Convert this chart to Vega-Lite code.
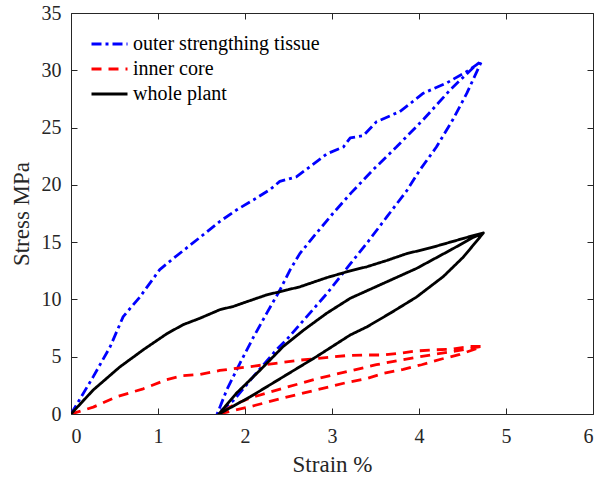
{
  "$schema": "https://vega.github.io/schema/vega-lite/v6.json",
  "width": 522,
  "height": 401,
  "autosize": {"type": "none"},
  "padding": {"left": 71, "top": 13, "right": 7, "bottom": 68},
  "background": "white",
  "config": {
    "view": {"stroke": "#262626", "strokeWidth": 1},
    "font": "Liberation Serif",
    "axis": {"grid": false, "domain": false, "ticks": true, "offset": -6, "tickColor": "#262626", "tickSize": 6, "tickWidth": 1, "zindex": 2, "labelFont": "Liberation Serif", "labelFontSize": 20, "labelColor": "#262626", "titleFont": "Liberation Serif", "titleFontSize": 23, "titleFontWeight": "normal", "titleColor": "#262626"}
  },
  "data": {"values": [
    {"s":"outer strengthing tissue","i":0,"x":0,"y":0},
    {"s":"outer strengthing tissue","i":1,"x":0.256,"y":3.26},
    {"s":"outer strengthing tissue","i":2,"x":0.45,"y":5.87},
    {"s":"outer strengthing tissue","i":3,"x":0.6,"y":8.5},
    {"s":"outer strengthing tissue","i":4,"x":0.79,"y":10.2},
    {"s":"outer strengthing tissue","i":5,"x":1.02,"y":12.6},
    {"s":"outer strengthing tissue","i":6,"x":1.18,"y":13.6},
    {"s":"outer strengthing tissue","i":7,"x":1.48,"y":15.4},
    {"s":"outer strengthing tissue","i":8,"x":1.71,"y":16.8},
    {"s":"outer strengthing tissue","i":9,"x":1.9,"y":17.8},
    {"s":"outer strengthing tissue","i":10,"x":2.1,"y":18.7},
    {"s":"outer strengthing tissue","i":11,"x":2.29,"y":19.6},
    {"s":"outer strengthing tissue","i":12,"x":2.4,"y":20.3},
    {"s":"outer strengthing tissue","i":13,"x":2.59,"y":20.7},
    {"s":"outer strengthing tissue","i":14,"x":2.75,"y":21.6},
    {"s":"outer strengthing tissue","i":15,"x":2.94,"y":22.7},
    {"s":"outer strengthing tissue","i":16,"x":3.13,"y":23.3},
    {"s":"outer strengthing tissue","i":17,"x":3.21,"y":24.1},
    {"s":"outer strengthing tissue","i":18,"x":3.36,"y":24.3},
    {"s":"outer strengthing tissue","i":19,"x":3.51,"y":25.5},
    {"s":"outer strengthing tissue","i":20,"x":3.78,"y":26.4},
    {"s":"outer strengthing tissue","i":21,"x":3.9,"y":27.1},
    {"s":"outer strengthing tissue","i":22,"x":4.05,"y":28.0},
    {"s":"outer strengthing tissue","i":23,"x":4.32,"y":28.9},
    {"s":"outer strengthing tissue","i":24,"x":4.55,"y":29.9},
    {"s":"outer strengthing tissue","i":25,"x":4.72,"y":30.8},
    {"s":"outer strengthing tissue","i":26,"x":4.55,"y":28.0},
    {"s":"outer strengthing tissue","i":27,"x":4.39,"y":25.7},
    {"s":"outer strengthing tissue","i":28,"x":4.2,"y":23.3},
    {"s":"outer strengthing tissue","i":29,"x":4.01,"y":21.3},
    {"s":"outer strengthing tissue","i":30,"x":3.86,"y":19.5},
    {"s":"outer strengthing tissue","i":31,"x":3.63,"y":17.2},
    {"s":"outer strengthing tissue","i":32,"x":3.4,"y":14.9},
    {"s":"outer strengthing tissue","i":33,"x":3.21,"y":13.1},
    {"s":"outer strengthing tissue","i":34,"x":2.94,"y":10.5},
    {"s":"outer strengthing tissue","i":35,"x":2.71,"y":8.5},
    {"s":"outer strengthing tissue","i":36,"x":2.48,"y":6.5},
    {"s":"outer strengthing tissue","i":37,"x":2.36,"y":5.6},
    {"s":"outer strengthing tissue","i":38,"x":2.1,"y":3.3},
    {"s":"outer strengthing tissue","i":39,"x":1.87,"y":1.2},
    {"s":"outer strengthing tissue","i":40,"x":1.68,"y":0},
    {"s":"outer strengthing tissue","i":41,"x":1.79,"y":2.1},
    {"s":"outer strengthing tissue","i":42,"x":1.94,"y":4.4},
    {"s":"outer strengthing tissue","i":43,"x":2.1,"y":6.75},
    {"s":"outer strengthing tissue","i":44,"x":2.25,"y":8.8},
    {"s":"outer strengthing tissue","i":45,"x":2.4,"y":10.8},
    {"s":"outer strengthing tissue","i":46,"x":2.52,"y":12.6},
    {"s":"outer strengthing tissue","i":47,"x":2.63,"y":14.0},
    {"s":"outer strengthing tissue","i":48,"x":2.79,"y":15.5},
    {"s":"outer strengthing tissue","i":49,"x":3.01,"y":17.5},
    {"s":"outer strengthing tissue","i":50,"x":3.22,"y":19.3},
    {"s":"outer strengthing tissue","i":51,"x":3.47,"y":21.3},
    {"s":"outer strengthing tissue","i":52,"x":3.74,"y":23.3},
    {"s":"outer strengthing tissue","i":53,"x":4.05,"y":25.7},
    {"s":"outer strengthing tissue","i":54,"x":4.36,"y":28.3},
    {"s":"outer strengthing tissue","i":55,"x":4.66,"y":30.5},
    {"s":"outer strengthing tissue","i":56,"x":4.72,"y":30.8},
    {"s":"inner core","i":0,"x":0,"y":0},
    {"s":"inner core","i":1,"x":0.256,"y":0.6},
    {"s":"inner core","i":2,"x":0.525,"y":1.5},
    {"s":"inner core","i":3,"x":0.83,"y":2.2},
    {"s":"inner core","i":4,"x":1.1,"y":3.0},
    {"s":"inner core","i":5,"x":1.29,"y":3.35},
    {"s":"inner core","i":6,"x":1.48,"y":3.45},
    {"s":"inner core","i":7,"x":1.71,"y":3.8},
    {"s":"inner core","i":8,"x":2.02,"y":4.1},
    {"s":"inner core","i":9,"x":2.33,"y":4.4},
    {"s":"inner core","i":10,"x":2.63,"y":4.7},
    {"s":"inner core","i":11,"x":2.9,"y":4.9},
    {"s":"inner core","i":12,"x":3.17,"y":5.1},
    {"s":"inner core","i":13,"x":3.4,"y":5.15},
    {"s":"inner core","i":14,"x":3.59,"y":5.15},
    {"s":"inner core","i":15,"x":3.78,"y":5.3},
    {"s":"inner core","i":16,"x":3.97,"y":5.5},
    {"s":"inner core","i":17,"x":4.17,"y":5.6},
    {"s":"inner core","i":18,"x":4.36,"y":5.65},
    {"s":"inner core","i":19,"x":4.59,"y":5.9},
    {"s":"inner core","i":20,"x":4.72,"y":5.9},
    {"s":"inner core","i":21,"x":4.66,"y":5.7},
    {"s":"inner core","i":22,"x":4.47,"y":5.2},
    {"s":"inner core","i":23,"x":4.26,"y":4.8},
    {"s":"inner core","i":24,"x":4.03,"y":4.3},
    {"s":"inner core","i":25,"x":3.82,"y":3.9},
    {"s":"inner core","i":26,"x":3.59,"y":3.55},
    {"s":"inner core","i":27,"x":3.4,"y":3.1},
    {"s":"inner core","i":28,"x":3.17,"y":2.75},
    {"s":"inner core","i":29,"x":2.82,"y":2.1},
    {"s":"inner core","i":30,"x":2.44,"y":1.4},
    {"s":"inner core","i":31,"x":2.06,"y":0.64},
    {"s":"inner core","i":32,"x":1.7,"y":0},
    {"s":"inner core","i":33,"x":1.87,"y":0.8},
    {"s":"inner core","i":34,"x":2.06,"y":1.4},
    {"s":"inner core","i":35,"x":2.44,"y":2.25},
    {"s":"inner core","i":36,"x":2.79,"y":3.0},
    {"s":"inner core","i":37,"x":3.17,"y":3.7},
    {"s":"inner core","i":38,"x":3.51,"y":4.3},
    {"s":"inner core","i":39,"x":3.82,"y":4.75},
    {"s":"inner core","i":40,"x":4.13,"y":5.15},
    {"s":"inner core","i":41,"x":4.43,"y":5.5},
    {"s":"inner core","i":42,"x":4.72,"y":5.9},
    {"s":"whole plant","i":0,"x":0,"y":0},
    {"s":"whole plant","i":1,"x":0.256,"y":2.1},
    {"s":"whole plant","i":2,"x":0.56,"y":4.1},
    {"s":"whole plant","i":3,"x":0.83,"y":5.6},
    {"s":"whole plant","i":4,"x":1.1,"y":7.0},
    {"s":"whole plant","i":5,"x":1.29,"y":7.8},
    {"s":"whole plant","i":6,"x":1.48,"y":8.35},
    {"s":"whole plant","i":7,"x":1.71,"y":9.1},
    {"s":"whole plant","i":8,"x":1.87,"y":9.4},
    {"s":"whole plant","i":9,"x":2.02,"y":9.8},
    {"s":"whole plant","i":10,"x":2.25,"y":10.4},
    {"s":"whole plant","i":11,"x":2.36,"y":10.6},
    {"s":"whole plant","i":12,"x":2.63,"y":11.1},
    {"s":"whole plant","i":13,"x":2.94,"y":11.9},
    {"s":"whole plant","i":14,"x":3.21,"y":12.5},
    {"s":"whole plant","i":15,"x":3.4,"y":12.85},
    {"s":"whole plant","i":16,"x":3.63,"y":13.4},
    {"s":"whole plant","i":17,"x":3.86,"y":14.0},
    {"s":"whole plant","i":18,"x":4.13,"y":14.5},
    {"s":"whole plant","i":19,"x":4.36,"y":15.0},
    {"s":"whole plant","i":20,"x":4.59,"y":15.5},
    {"s":"whole plant","i":21,"x":4.74,"y":15.8},
    {"s":"whole plant","i":22,"x":4.51,"y":13.7},
    {"s":"whole plant","i":23,"x":4.28,"y":12.0},
    {"s":"whole plant","i":24,"x":3.97,"y":10.2},
    {"s":"whole plant","i":25,"x":3.67,"y":8.8},
    {"s":"whole plant","i":26,"x":3.4,"y":7.6},
    {"s":"whole plant","i":27,"x":3.21,"y":6.9},
    {"s":"whole plant","i":28,"x":2.82,"y":5.0},
    {"s":"whole plant","i":29,"x":2.44,"y":3.25},
    {"s":"whole plant","i":30,"x":2.06,"y":1.5},
    {"s":"whole plant","i":31,"x":1.7,"y":0},
    {"s":"whole plant","i":32,"x":1.9,"y":1.8},
    {"s":"whole plant","i":33,"x":2.17,"y":3.8},
    {"s":"whole plant","i":34,"x":2.44,"y":5.9},
    {"s":"whole plant","i":35,"x":2.67,"y":7.3},
    {"s":"whole plant","i":36,"x":2.94,"y":8.8},
    {"s":"whole plant","i":37,"x":3.21,"y":10.1},
    {"s":"whole plant","i":38,"x":3.59,"y":11.4},
    {"s":"whole plant","i":39,"x":3.97,"y":12.7},
    {"s":"whole plant","i":40,"x":4.36,"y":14.3},
    {"s":"whole plant","i":41,"x":4.62,"y":15.4},
    {"s":"whole plant","i":42,"x":4.74,"y":15.8}
  ]},
  "layer": [
    {
      "mark": {"type": "line", "strokeWidth": 2.8, "strokeCap": "butt", "strokeJoin": "round", "clip": true},
      "encoding": {
        "x": {"field": "x", "type": "quantitative", "scale": {"domain": [0, 6], "nice": false, "zero": false}, "axis": {"values": [0,1,2,3,4,5,6], "title": "Strain %", "labelPadding": 12, "titlePadding": 7}},
        "y": {"field": "y", "type": "quantitative", "scale": {"domain": [0, 35], "nice": false}, "axis": {"values": [0,5,10,15,20,25,30,35], "title": "Stress MPa", "labelPadding": 10, "titlePadding": 8}},
        "order": {"field": "i", "type": "quantitative"},
        "color": {"field": "s", "type": "nominal", "scale": {"domain": ["outer strengthing tissue", "inner core", "whole plant"], "range": ["#0000FF", "#FF0000", "#000000"]},
          "legend": {"orient": "none", "legendX": 19, "legendY": 20, "title": null, "symbolType": "stroke", "symbolSize": 1296, "symbolStrokeWidth": 2.8, "labelFontSize": 20, "labelFont": "Liberation Serif", "labelColor": "#000000", "labelOffset": 4, "labelLimit": 400, "clipHeight": 22, "rowPadding": 3}},
        "strokeDash": {"field": "s", "type": "nominal", "scale": {"domain": ["outer strengthing tissue", "inner core", "whole plant"], "range": [[10,4,3,4],[10,7],[1,0]]},
          "legend": {"orient": "none", "legendX": 19, "legendY": 20, "title": null, "symbolType": "stroke", "symbolSize": 1296, "symbolStrokeWidth": 2.8, "labelFontSize": 20, "labelFont": "Liberation Serif", "labelColor": "#000000", "labelOffset": 4, "labelLimit": 400, "clipHeight": 22, "rowPadding": 3}}
      }
    },
    {
      "mark": {"type": "line", "opacity": 0},
      "encoding": {
        "x": {"field": "x", "type": "quantitative", "scale": {"domain": [0, 6], "nice": false, "zero": false}, "axis": {"orient": "top", "values": [0,1,2,3,4,5,6], "labels": false, "title": null}},
        "y": {"field": "y", "type": "quantitative", "scale": {"domain": [0, 35], "nice": false}, "axis": {"orient": "right", "values": [0,5,10,15,20,25,30,35], "labels": false, "title": null}},
        "detail": {"field": "s", "type": "nominal"}
      }
    }
  ],
  "resolve": {"axis": {"x": "independent", "y": "independent"}}
}
